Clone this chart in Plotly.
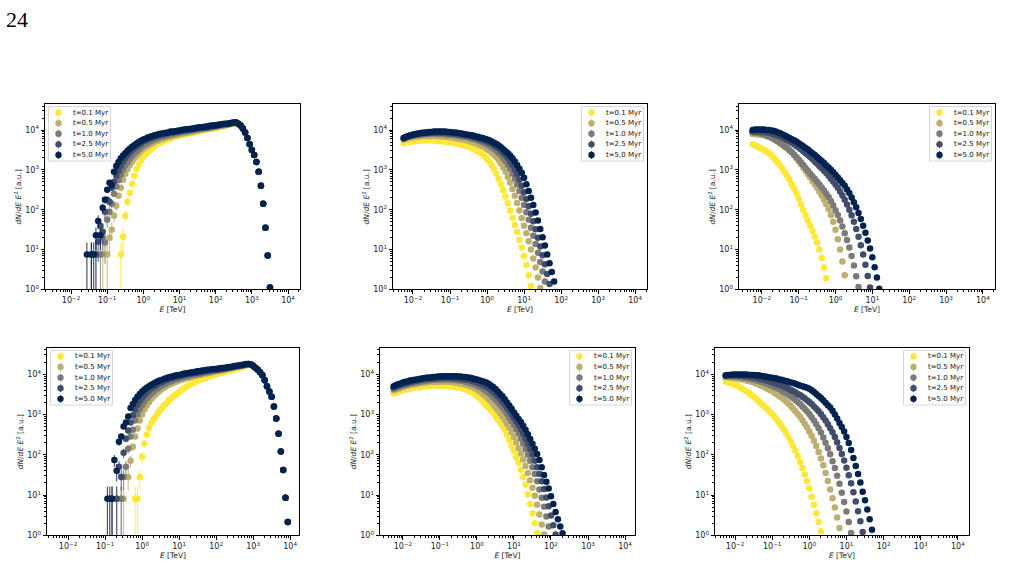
import numpy as np
import plotly.graph_objects as go

W, H = 1028, 580
FONT = "DejaVu Sans"
STEP = 0.0625  # width of one energy bin in log10(E/TeV): 16 bins per decade

LABELS = ["t=0.1 Myr", "t=0.5 Myr", "t=1.0 Myr", "t=2.5 Myr", "t=5.0 Myr"]
COLORS = ["#fde737", "#bcaf6f", "#7c7b78", "#414d6b", "#00224e"]
X_TICK_EXP = [-2, -1, 0, 1, 2, 3, 4]
Y_TICK_EXP = [0, 1, 2, 3, 4]

# ---------------- data: log10(E) of the first bin, then log10(dN/dE E^2) per bin ----------
# Panel 1 (top left)
P1_START = [-0.625, -1.125, -1.3125, -1.4375, -1.5625]
P1_TAIL = [4.19, 4.16, 4.11, 4.04, 3.94, 3.80, 3.64, 3.50, 3.37, 3.20, 2.95, 2.60, 2.15, 1.55, 0.85, 0.05]
P1_T01 = [0.88, 1.32, 1.85, 2.20, 2.42, 2.65, 2.85, 3.02, 3.14, 3.24, 3.32,
          3.39, 3.44, 3.50, 3.55, 3.60, 3.64, 3.67, 3.70, 3.72, 3.75, 3.77, 3.79, 3.81, 3.83, 3.85, 3.86,
          3.88, 3.89, 3.90, 3.91, 3.92, 3.94, 3.95, 3.96, 3.97, 3.99, 4.00, 4.01, 4.02, 4.03, 4.04, 4.05,
          4.06, 4.08, 4.09, 4.10, 4.12, 4.13, 4.15, 4.16] + P1_TAIL
P1_T05 = [0.88, None, 0.88, 1.30, 1.50, 1.85, 2.10, 2.35, 2.55, 2.75, 2.90, 3.02, 3.12, 3.21, 3.29, 3.36,
          3.42, 3.48, 3.53,
          3.57, 3.61, 3.64, 3.67, 3.70, 3.73, 3.75, 3.78, 3.79, 3.81, 3.83, 3.84, 3.86, 3.87, 3.88, 3.90,
          3.91, 3.92, 3.93, 3.94, 3.95, 3.96, 3.98, 3.99, 4.00, 4.01, 4.02, 4.03, 4.04, 4.05, 4.06, 4.08,
          4.09, 4.10, 4.11, 4.12, 4.14, 4.15, 4.16, 4.18] + P1_TAIL
P1_T10 = [0.88, None, 0.88, 1.30, 1.18, 1.75, 1.95, 2.15, 2.40, 2.58, 2.74, 2.88, 3.01, 3.12, 3.20, 3.28,
          3.35, 3.42, 3.47, 3.52, 3.57, 3.62,
          3.65, 3.68, 3.71, 3.74, 3.77, 3.79, 3.81, 3.83, 3.84, 3.86, 3.87, 3.89, 3.90, 3.91, 3.93, 3.94,
          3.95, 3.96, 3.97, 3.98, 3.99, 4.00, 4.01, 4.02, 4.03, 4.04, 4.04, 4.05, 4.06, 4.07, 4.08, 4.09,
          4.10, 4.11, 4.12, 4.13, 4.14, 4.15, 4.17, 4.18] + P1_TAIL
P1_T25 = [0.88, None, 0.88, 1.20, 1.60, 1.45, 1.95, 2.25, 2.20, 2.55, 2.70, 2.85, 2.98, 3.10, 3.21, 3.30,
          3.37, 3.43, 3.49, 3.54, 3.59, 3.63, 3.67, 3.71,
          3.74, 3.76, 3.79, 3.81, 3.83, 3.85, 3.86, 3.88, 3.89, 3.90, 3.92, 3.93, 3.94, 3.95, 3.96, 3.97,
          3.98, 3.99, 4.00, 4.01, 4.02, 4.02, 4.03, 4.04, 4.05, 4.06, 4.07, 4.07, 4.08, 4.09, 4.10, 4.11,
          4.12, 4.13, 4.14, 4.15, 4.15, 4.16, 4.17, 4.18] + P1_TAIL
P1_T50 = [0.88, None, 0.88, 0.88, 1.36, 1.72, 1.36, 2.05, 2.25, 2.50, 2.68, 2.62, 2.95, 3.10, 3.20, 3.29,
          3.36, 3.42, 3.48, 3.53, 3.58, 3.62, 3.66, 3.70, 3.73, 3.76,
          3.78, 3.81, 3.83, 3.85, 3.87, 3.88, 3.90, 3.91, 3.92, 3.93, 3.94, 3.96, 3.96, 3.97, 3.98, 3.99,
          4.00, 4.01, 4.02, 4.02, 4.03, 4.04, 4.05, 4.06, 4.07, 4.07, 4.08, 4.09, 4.10, 4.11, 4.11, 4.12,
          4.13, 4.14, 4.15, 4.16, 4.16, 4.17, 4.18, 4.19] + P1_TAIL

# Panel 2 (top middle)
P2_START = [-2.25] * 5
P2_T01 = [3.67, 3.69, 3.70, 3.71, 3.72, 3.72, 3.73, 3.73, 3.74, 3.74, 3.74, 3.74, 3.74, 3.74, 3.73, 3.73,
          3.72, 3.72, 3.71, 3.70, 3.69, 3.68, 3.67, 3.66, 3.65, 3.63, 3.62, 3.60, 3.58, 3.56, 3.53, 3.50,
          3.47, 3.43, 3.39, 3.34, 3.28, 3.21, 3.12, 3.02, 2.91, 2.78, 2.64, 2.49, 2.33, 2.16, 1.98, 1.80,
          1.62, 1.44, 1.25, 1.05, 0.84, 0.61, 0.36, 0.09]
P2_T05 = [3.76, 3.78, 3.80, 3.81, 3.82, 3.83, 3.84, 3.84, 3.85, 3.85, 3.85, 3.85, 3.85, 3.85, 3.85, 3.85,
          3.84, 3.84, 3.83, 3.83, 3.82, 3.81, 3.80, 3.79, 3.78, 3.77, 3.76, 3.74, 3.73, 3.71, 3.69, 3.67,
          3.64, 3.62, 3.59, 3.56, 3.52, 3.48, 3.43, 3.38, 3.32, 3.25, 3.16, 3.06, 2.95, 2.82, 2.68, 2.52,
          2.35, 2.17, 1.98, 1.79, 1.60, 1.41, 1.21, 1.00, 0.78, 0.55, 0.30, 0.04]
P2_T10 = [3.80, 3.82, 3.84, 3.85, 3.86, 3.87, 3.88, 3.89, 3.89, 3.90, 3.90, 3.90, 3.91, 3.91, 3.91, 3.90,
          3.90, 3.90, 3.89, 3.89, 3.88, 3.88, 3.87, 3.86, 3.85, 3.84, 3.83, 3.82, 3.81, 3.79, 3.78, 3.76,
          3.74, 3.72, 3.70, 3.67, 3.64, 3.61, 3.57, 3.53, 3.48, 3.43, 3.37, 3.30, 3.22, 3.13, 3.03, 2.91,
          2.78, 2.63, 2.47, 2.30, 2.12, 1.94, 1.75, 1.55, 1.35, 1.14, 0.92, 0.69, 0.45, 0.20]
P2_T25 = [3.79, 3.82, 3.84, 3.86, 3.87, 3.88, 3.89, 3.90, 3.91, 3.92, 3.92, 3.93, 3.93, 3.93, 3.93, 3.93,
          3.93, 3.93, 3.93, 3.92, 3.92, 3.91, 3.91, 3.90, 3.89, 3.88, 3.87, 3.86, 3.85, 3.84, 3.82, 3.81,
          3.79, 3.77, 3.75, 3.73, 3.71, 3.68, 3.65, 3.62, 3.58, 3.54, 3.49, 3.43, 3.37, 3.30, 3.21, 3.12,
          3.01, 2.89, 2.75, 2.60, 2.44, 2.27, 2.09, 1.90, 1.71, 1.51, 1.30, 1.08, 0.86, 0.63, 0.39, 0.14]
P2_T50 = [3.80, 3.83, 3.85, 3.87, 3.89, 3.90, 3.91, 3.92, 3.93, 3.94, 3.94, 3.95, 3.95, 3.96, 3.96, 3.96,
          3.96, 3.96, 3.96, 3.95, 3.95, 3.94, 3.94, 3.93, 3.92, 3.91, 3.90, 3.89, 3.88, 3.87, 3.86, 3.84,
          3.83, 3.81, 3.80, 3.78, 3.76, 3.74, 3.71, 3.68, 3.65, 3.61, 3.57, 3.52, 3.47, 3.42, 3.36, 3.29,
          3.21, 3.12, 3.03, 2.93, 2.80, 2.64, 2.47, 2.30, 2.12, 1.93, 1.73, 1.52, 1.31, 1.10, 0.88, 0.66,
          0.44, 0.20]

# Panel 3 (top right)
P3_START = [-2.25] * 5
P3_T01 = [3.64, 3.61, 3.59, 3.56, 3.53, 3.50, 3.47, 3.42, 3.37, 3.31, 3.25, 3.18, 3.11, 3.03, 2.94, 2.85,
          2.75, 2.64, 2.53, 2.41, 2.28, 2.14, 2.00, 1.86, 1.73, 1.60, 1.47, 1.33, 1.18, 1.00, 0.79, 0.55,
          0.28]
P3_T05 = [3.90, 3.90, 3.89, 3.89, 3.88, 3.87, 3.86, 3.84, 3.82, 3.80, 3.77, 3.74, 3.70, 3.66, 3.61, 3.56,
          3.50, 3.44, 3.37, 3.30, 3.22, 3.14, 3.06, 2.98, 2.89, 2.81, 2.72, 2.64, 2.55, 2.46, 2.36, 2.25,
          2.14, 2.01, 1.87, 1.70, 1.50, 1.26, 1.00, 0.70, 0.36]
P3_T10 = [3.95, 3.94, 3.93, 3.92, 3.91, 3.89, 3.86, 3.84, 3.81, 3.78, 3.74, 3.71, 3.67, 3.63, 3.58, 3.54,
          3.49, 3.44, 3.38, 3.32, 3.26, 3.19, 3.12, 3.05, 2.98, 2.91, 2.84, 2.77, 2.70, 2.63, 2.56, 2.48,
          2.40, 2.32, 2.22, 2.11, 1.99, 1.87, 1.73, 1.58, 1.41, 1.24, 1.05, 0.84, 0.60, 0.33, 0.06]
P3_T25 = [3.96, 3.96, 3.96, 3.96, 3.95, 3.95, 3.94, 3.93, 3.92, 3.90, 3.88, 3.86, 3.84, 3.81, 3.78, 3.75,
          3.72, 3.68, 3.64, 3.60, 3.56, 3.52, 3.47, 3.42, 3.37, 3.32, 3.27, 3.21, 3.16, 3.10, 3.04, 2.98,
          2.92, 2.85, 2.78, 2.71, 2.63, 2.55, 2.46, 2.36, 2.25, 2.13, 2.00, 1.86, 1.70, 1.52, 1.32, 1.11,
          0.88, 0.62, 0.34, 0.05]
P3_T50 = [4.00, 4.01, 4.01, 4.01, 4.01, 4.01, 4.00, 4.00, 3.99, 3.98, 3.96, 3.94, 3.92, 3.89, 3.86, 3.83,
          3.80, 3.77, 3.74, 3.71, 3.67, 3.63, 3.59, 3.55, 3.51, 3.46, 3.42, 3.37, 3.32, 3.27, 3.22, 3.17,
          3.11, 3.06, 3.00, 2.94, 2.88, 2.81, 2.74, 2.67, 2.60, 2.51, 2.42, 2.31, 2.19, 2.06, 1.92, 1.77,
          1.60, 1.42, 1.23, 1.03, 0.81, 0.56, 0.30, 0.02]

# Panel 4 (bottom left)
P4_START = [-0.1875, -0.5625, -0.6875, -0.8125, -0.9375]
P4_TAIL = [4.25, 4.24, 4.21, 4.16, 4.11, 4.05, 3.97, 3.85, 3.70, 3.57, 3.44, 3.20, 2.90, 2.52, 2.08, 1.62,
           0.93, 0.33]
P4_T01 = [0.91, 0.91, 1.45, 1.95,
          2.28, 2.50, 2.67, 2.79, 2.88, 2.96, 3.05, 3.12, 3.19, 3.25, 3.31, 3.37, 3.42, 3.47, 3.51, 3.56,
          3.60, 3.64, 3.68, 3.71, 3.75, 3.78, 3.81, 3.84, 3.86, 3.88, 3.90, 3.92, 3.94, 3.96, 3.98, 3.99,
          4.01, 4.03, 4.04, 4.06, 4.07, 4.09, 4.10, 4.12, 4.14, 4.15, 4.17, 4.19, 4.21] + P4_TAIL
P4_T05 = [0.91, 0.91, None, 1.45, 1.85, 2.20, 2.45, 2.65, 2.85, 3.00,
          3.12, 3.22, 3.31, 3.39, 3.45, 3.51, 3.56, 3.61, 3.65, 3.68, 3.72, 3.75, 3.77, 3.80, 3.82, 3.84,
          3.86, 3.88, 3.90, 3.91, 3.93, 3.94, 3.96, 3.97, 3.98, 4.00, 4.01, 4.02, 4.03, 4.04, 4.06, 4.07,
          4.08, 4.09, 4.10, 4.11, 4.13, 4.14, 4.15, 4.17, 4.18, 4.19, 4.21, 4.22, 4.24] + P4_TAIL
P4_T10 = [0.91, None, 0.91, 1.45, 1.70, 2.15, 2.45, 2.62, 2.85, 3.00, 3.13, 3.23,
          3.32, 3.40, 3.46, 3.52, 3.57, 3.62, 3.66, 3.70, 3.73, 3.76, 3.79, 3.81, 3.83, 3.86, 3.88, 3.89,
          3.91, 3.93, 3.94, 3.95, 3.97, 3.98, 3.99, 4.00, 4.01, 4.03, 4.04, 4.05, 4.06, 4.07, 4.08, 4.09,
          4.10, 4.11, 4.12, 4.13, 4.14, 4.15, 4.17, 4.18, 4.19, 4.20, 4.21, 4.23, 4.24] + P4_TAIL
P4_T25 = [0.91, None, 0.91, 1.70, 1.45, 2.05, 2.40, 2.60, 2.80, 2.98, 3.12, 3.24, 3.34, 3.42,
          3.49, 3.55, 3.60, 3.65, 3.69, 3.72, 3.76, 3.79, 3.81, 3.84, 3.86, 3.88, 3.90, 3.92, 3.93, 3.95,
          3.96, 3.98, 3.99, 4.00, 4.01, 4.02, 4.03, 4.04, 4.05, 4.06, 4.07, 4.08, 4.09, 4.10, 4.11, 4.11,
          4.12, 4.13, 4.14, 4.15, 4.16, 4.17, 4.18, 4.19, 4.20, 4.21, 4.22, 4.23, 4.24] + P4_TAIL
P4_T50 = [0.91, 0.91, 0.91, 1.87, 1.60, 2.32, 2.45, 2.70, 2.80, 2.95, 3.16, 3.26, 3.36, 3.44, 3.51, 3.57,
          3.62, 3.66, 3.70, 3.74, 3.77, 3.80, 3.83, 3.85, 3.87, 3.89, 3.91, 3.93, 3.94, 3.96, 3.97, 3.98,
          3.99, 4.01, 4.02, 4.03, 4.04, 4.05, 4.06, 4.07, 4.08, 4.09, 4.10, 4.11, 4.11, 4.12, 4.13, 4.13,
          4.14, 4.15, 4.15, 4.16, 4.17, 4.18, 4.19, 4.20, 4.21, 4.22, 4.23, 4.24, 4.25] + P4_TAIL

# Panel 5 (bottom middle)
P5_START = [-2.25] * 5
P5_T01 = [3.52, 3.54, 3.56, 3.58, 3.60, 3.61, 3.63, 3.64, 3.65, 3.66, 3.67, 3.68, 3.69, 3.70, 3.70, 3.71,
          3.71, 3.72, 3.72, 3.72, 3.72, 3.72, 3.71, 3.71, 3.70, 3.70, 3.69, 3.68, 3.67, 3.66, 3.64, 3.62,
          3.60, 3.57, 3.54, 3.50, 3.46, 3.41, 3.35, 3.29, 3.23, 3.17, 3.11, 3.04, 2.96, 2.88, 2.80, 2.71,
          2.62, 2.50, 2.36, 2.22, 2.08, 1.94, 1.80, 1.63, 1.45, 1.26, 1.02, 0.78, 0.54, 0.30, 0.06]
P5_T05 = [3.60, 3.62, 3.64, 3.66, 3.68, 3.70, 3.71, 3.73, 3.74, 3.75, 3.76, 3.77, 3.78, 3.79, 3.79, 3.80,
          3.81, 3.81, 3.81, 3.82, 3.82, 3.82, 3.82, 3.82, 3.81, 3.81, 3.80, 3.79, 3.78, 3.77, 3.76, 3.74,
          3.72, 3.70, 3.68, 3.65, 3.62, 3.58, 3.54, 3.49, 3.44, 3.38, 3.32, 3.25, 3.18, 3.11, 3.03, 2.95,
          2.86, 2.77, 2.67, 2.56, 2.44, 2.31, 2.17, 2.03, 1.88, 1.72, 1.55, 1.37, 1.18, 0.98, 0.76, 0.52,
          0.27, 0.02]
P5_T10 = [3.64, 3.66, 3.68, 3.70, 3.72, 3.74, 3.75, 3.77, 3.78, 3.79, 3.80, 3.81, 3.82, 3.83, 3.84, 3.85,
          3.85, 3.86, 3.86, 3.87, 3.87, 3.87, 3.87, 3.87, 3.87, 3.86, 3.86, 3.85, 3.85, 3.84, 3.83, 3.81,
          3.80, 3.78, 3.76, 3.74, 3.72, 3.69, 3.66, 3.62, 3.58, 3.54, 3.49, 3.43, 3.37, 3.31, 3.24, 3.17,
          3.09, 3.01, 2.92, 2.83, 2.74, 2.64, 2.53, 2.41, 2.28, 2.14, 2.00, 1.85, 1.69, 1.52, 1.34, 1.14,
          0.93, 0.71, 0.47, 0.22]
P5_T25 = [3.67, 3.70, 3.72, 3.74, 3.76, 3.77, 3.79, 3.80, 3.82, 3.83, 3.84, 3.85, 3.86, 3.87, 3.88, 3.88,
          3.89, 3.89, 3.90, 3.90, 3.91, 3.91, 3.91, 3.91, 3.91, 3.91, 3.90, 3.90, 3.89, 3.89, 3.88, 3.87,
          3.86, 3.85, 3.83, 3.81, 3.79, 3.77, 3.75, 3.72, 3.69, 3.65, 3.61, 3.56, 3.51, 3.45, 3.39, 3.32,
          3.25, 3.17, 3.09, 3.00, 2.91, 2.82, 2.73, 2.63, 2.52, 2.40, 2.27, 2.14, 2.00, 1.85, 1.69, 1.52,
          1.34, 1.15, 0.94, 0.72, 0.49, 0.25, 0.02]
P5_T50 = [3.70, 3.73, 3.75, 3.77, 3.79, 3.81, 3.82, 3.84, 3.85, 3.86, 3.87, 3.88, 3.89, 3.90, 3.91, 3.92,
          3.92, 3.93, 3.93, 3.94, 3.94, 3.95, 3.95, 3.95, 3.95, 3.95, 3.95, 3.95, 3.94, 3.94, 3.93, 3.93,
          3.92, 3.91, 3.90, 3.88, 3.87, 3.85, 3.83, 3.81, 3.79, 3.76, 3.72, 3.68, 3.63, 3.57, 3.51, 3.45,
          3.38, 3.30, 3.22, 3.14, 3.05, 2.97, 2.89, 2.81, 2.72, 2.62, 2.51, 2.39, 2.27, 2.15, 2.02, 1.87,
          1.69, 1.50, 1.33, 1.16, 0.97, 0.78, 0.58, 0.40, 0.22, 0.05]

# Panel 6 (bottom right)
P6_START = [-2.25] * 5
P6_T01 = [3.81, 3.80, 3.78, 3.76, 3.73, 3.71, 3.68, 3.64, 3.61, 3.57, 3.53, 3.48, 3.44, 3.39, 3.34, 3.29,
          3.23, 3.18, 3.12, 3.07, 3.01, 2.94, 2.87, 2.80, 2.72, 2.63, 2.54, 2.44, 2.33, 2.22, 2.10, 1.96,
          1.82, 1.67, 1.51, 1.34, 1.16, 0.96, 0.76, 0.55, 0.33, 0.10]
P6_T05 = [3.93, 3.92, 3.92, 3.91, 3.90, 3.89, 3.88, 3.87, 3.86, 3.84, 3.83, 3.81, 3.79, 3.77, 3.75, 3.72,
          3.70, 3.67, 3.64, 3.61, 3.58, 3.54, 3.50, 3.46, 3.42, 3.37, 3.32, 3.27, 3.21, 3.15, 3.08, 3.01,
          2.94, 2.86, 2.77, 2.68, 2.58, 2.47, 2.35, 2.22, 2.07, 1.91, 1.74, 1.55, 1.35, 1.14, 0.92, 0.69,
          0.44, 0.18]
P6_T10 = [3.95, 3.95, 3.95, 3.94, 3.94, 3.93, 3.93, 3.92, 3.91, 3.90, 3.89, 3.88, 3.86, 3.85, 3.83, 3.82,
          3.80, 3.78, 3.76, 3.73, 3.71, 3.68, 3.66, 3.63, 3.60, 3.56, 3.53, 3.49, 3.45, 3.41, 3.36, 3.31,
          3.26, 3.20, 3.14, 3.08, 3.01, 2.93, 2.85, 2.76, 2.66, 2.55, 2.43, 2.30, 2.16, 2.01, 1.84, 1.67,
          1.48, 1.28, 1.06, 0.83, 0.59, 0.33, 0.06]
P6_T25 = [3.96, 3.97, 3.97, 3.97, 3.97, 3.97, 3.96, 3.96, 3.95, 3.95, 3.94, 3.93, 3.92, 3.91, 3.90, 3.88,
          3.87, 3.85, 3.84, 3.82, 3.80, 3.78, 3.76, 3.74, 3.72, 3.69, 3.67, 3.64, 3.61, 3.58, 3.55, 3.51,
          3.48, 3.44, 3.40, 3.35, 3.31, 3.26, 3.20, 3.14, 3.08, 3.01, 2.93, 2.85, 2.76, 2.66, 2.56, 2.44,
          2.31, 2.17, 2.02, 1.86, 1.68, 1.49, 1.29, 1.07, 0.84, 0.60, 0.35, 0.08]
P6_T50 = [3.97, 3.98, 3.98, 3.99, 3.99, 3.99, 3.99, 3.99, 3.99, 3.99, 3.98, 3.98, 3.98, 3.97, 3.97, 3.96,
          3.95, 3.94, 3.93, 3.92, 3.91, 3.90, 3.89, 3.87, 3.86, 3.84, 3.83, 3.81, 3.79, 3.78, 3.76, 3.74,
          3.72, 3.70, 3.68, 3.66, 3.64, 3.60, 3.56, 3.51, 3.46, 3.41, 3.35, 3.29, 3.23, 3.17, 3.09, 3.00,
          2.90, 2.79, 2.69, 2.58, 2.44, 2.29, 2.12, 1.92, 1.72, 1.52, 1.31, 1.08, 0.87, 0.64, 0.40, 0.14]

# Single-count level (panels with Poisson error bars on the low-energy rise)
P1_ONE_COUNT = 10 ** 0.88
P4_ONE_COUNT = 10 ** 0.91
ERR_MAX_LOG_E = 1.5  # error bars are only visible on the low-energy side

# ---------------- layout of the six panels (pixel boxes) ----------------
PANELS = [
    dict(starts=P1_START, series=[P1_T01, P1_T05, P1_T10, P1_T25, P1_T50], one=P1_ONE_COUNT,
         box=(45, 300, 105, 292), xr=(-2.72, 4.33), leg="left"),
    dict(starts=P2_START, series=[P2_T01, P2_T05, P2_T10, P2_T25, P2_T50], one=None,
         box=(393, 647, 105, 292), xr=(-2.54, 4.32), leg="right"),
    dict(starts=P3_START, series=[P3_T01, P3_T05, P3_T10, P3_T25, P3_T50], one=None,
         box=(739, 995, 105, 292), xr=(-2.62, 4.33), leg="right"),
    dict(starts=P4_START, series=[P4_T01, P4_T05, P4_T10, P4_T25, P4_T50], one=P4_ONE_COUNT,
         box=(47, 299, 351, 540), xr=(-2.57, 4.24), leg="left"),
    dict(starts=P5_START, series=[P5_T01, P5_T05, P5_T10, P5_T25, P5_T50], one=None,
         box=(380, 635, 351, 540), xr=(-2.62, 4.27), leg="right"),
    dict(starts=P6_START, series=[P6_T01, P6_T05, P6_T10, P6_T25, P6_T50], one=None,
         box=(715, 969, 351, 540), xr=(-2.54, 4.30), leg="right"),
]
YR = (0.0, 4.65)


def rgba(hex_color, a):
    h = hex_color.lstrip("#")
    return "rgba(%d,%d,%d,%.2f)" % (int(h[0:2], 16), int(h[2:4], 16), int(h[4:6], 16), a)


def px(x):
    return x / W


def py(y):
    return 1 - y / H


def sup_label(k):
    return "10<sup>%s</sup>" % (("\u2212%d" % -k) if k < 0 else "%d" % k)


fig = go.Figure()
layout = {}
shapes = []
annotations = []

for i, p in enumerate(PANELS):
    n = i + 1
    xname = "x" if n == 1 else "x%d" % n
    yname = "y" if n == 1 else "y%d" % n
    for s in range(5):
        vals = p["series"][s]
        lx = p["starts"][s] + STEP * np.arange(len(vals))
        y = np.array([np.nan if v is None else 10 ** v for v in vals])
        err = None
        if p["one"] is not None:
            e = np.where(lx < ERR_MAX_LOG_E, np.sqrt(y * p["one"]), 0.0)
            err = dict(type="data", array=e, arrayminus=e, visible=True,
                       color=rgba(COLORS[s], 0.75), thickness=1.2, width=0)
        fig.add_trace(go.Scatter(
            x=10 ** lx, y=y, mode="markers", name=LABELS[s],
            marker=dict(size=6.5, color=COLORS[s], line=dict(width=0)),
            error_y=err, xaxis=xname, yaxis=yname, showlegend=False, cliponaxis=True,
            hoverinfo="skip"))

    x0, x1, y0, y1 = p["box"]
    xminor = [m * 10 ** k for k in range(-3, 5) for m in range(2, 10)
              if p["xr"][0] < np.log10(m * 10 ** k) < p["xr"][1]]
    yminor = [m * 10 ** k for k in range(0, 5) for m in range(2, 10)
              if YR[0] < np.log10(m * 10 ** k) < YR[1]]
    common = dict(type="log", showline=True, linecolor="black", linewidth=0.8, mirror=True,
                  showgrid=False, zeroline=False, ticks="outside", ticklen=3.5, tickwidth=0.8,
                  tickcolor="black", tickmode="array",
                  tickfont=dict(family=FONT, size=8, color="#222"))
    layout["xaxis" if n == 1 else "xaxis%d" % n] = dict(
        common, domain=[px(x0), px(x1)], range=list(p["xr"]), anchor=yname,
        tickvals=[10 ** k for k in X_TICK_EXP], ticktext=[sup_label(k) for k in X_TICK_EXP],
        minor=dict(tickmode="array", tickvals=xminor, ticks="outside", ticklen=2, tickwidth=0.6,
                   tickcolor="black", showgrid=False),
        title=dict(text="<i>E</i> [TeV]", font=dict(family=FONT, size=7.5, color="#222"), standoff=2))
    layout["yaxis" if n == 1 else "yaxis%d" % n] = dict(
        common, domain=[py(y1), py(y0)], range=list(YR), anchor=xname,
        tickvals=[10 ** k for k in Y_TICK_EXP], ticktext=[sup_label(k) for k in Y_TICK_EXP],
        minor=dict(tickmode="array", tickvals=yminor, ticks="outside", ticklen=2, tickwidth=0.6,
                   tickcolor="black", showgrid=False),
        title=dict(text="<i>dN</i>/<i>dE</i> <i>E</i><sup>2</sup> [a.u.]",
                   font=dict(family=FONT, size=7.5, color="#222"), standoff=2))

    # legend (drawn in pixel space, matplotlib-like layout)
    bw, bh = 62, 55
    if p["leg"] == "left":
        bx0 = x0 + 3.5
    else:
        bx0 = x1 - 3.5 - bw
    by0 = y0 + 2.5
    shapes.append(dict(type="rect", xref="paper", yref="paper", x0=px(bx0), x1=px(bx0 + bw),
                       y0=py(by0 + bh), y1=py(by0), line=dict(color="#cccccc", width=0.8),
                       fillcolor="rgba(255,255,255,0.85)", layer="above"))
    for s in range(5):
        cy = by0 + 6 + 10.7 * s
        mx = bx0 + 10
        shapes.append(dict(type="line", xref="paper", yref="paper", x0=px(mx), x1=px(mx),
                           y0=py(cy - 4), y1=py(cy + 4), line=dict(color=rgba(COLORS[s], 0.75), width=1.2),
                           layer="above"))
        shapes.append(dict(type="circle", xref="paper", yref="paper", x0=px(mx - 3.2), x1=px(mx + 3.2),
                           y0=py(cy + 3.2), y1=py(cy - 3.2), line=dict(width=0), fillcolor=COLORS[s],
                           layer="above"))
        annotations.append(dict(xref="paper", yref="paper", x=px(bx0 + 22), y=py(cy), text=LABELS[s],
                                showarrow=False, xanchor="left", yanchor="middle",
                                font=dict(family=FONT, size=7, color="#111")))

annotations.append(dict(xref="paper", yref="paper", x=px(4), y=py(5), text="24", showarrow=False,
                        xanchor="left", yanchor="top",
                        font=dict(family="Liberation Serif", size=22, color="black")))

fig.update_layout(width=W, height=H, margin=dict(l=0, r=0, t=0, b=0), showlegend=False,
                  paper_bgcolor="white", plot_bgcolor="white", shapes=shapes,
                  annotations=annotations, font=dict(family=FONT), **layout)

fig.write_html("out.html")
